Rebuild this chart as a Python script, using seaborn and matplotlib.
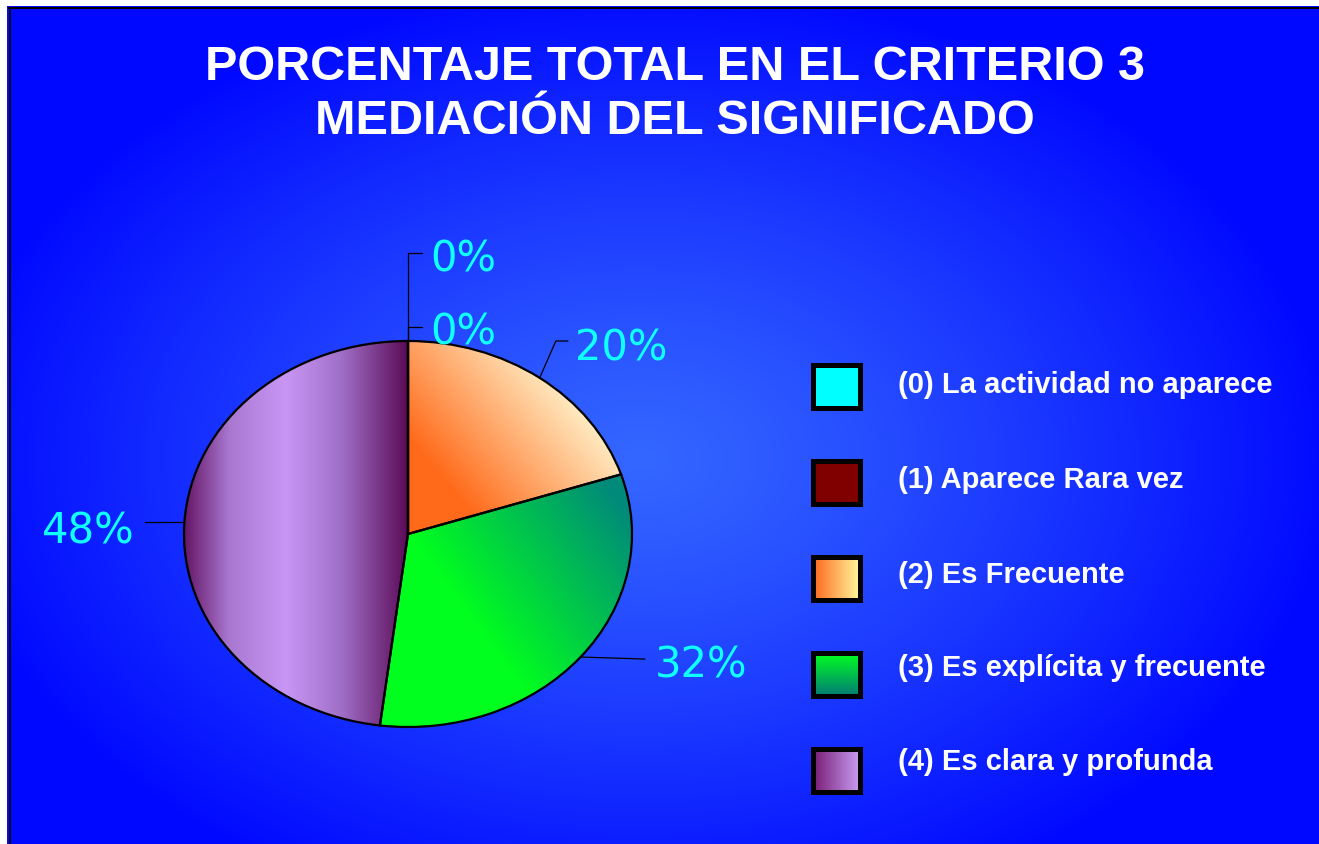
import numpy as np
import matplotlib
matplotlib.use("Agg")
import matplotlib.pyplot as plt
import seaborn as sns

categories = [
    "(0) La actividad no aparece",
    "(1) Aparece Rara vez",
    "(2) Es Frecuente",
    "(3) Es explícita y frecuente",
    "(4) Es clara y profunda",
]
percentages = [0, 0, 20, 32, 48]
title_lines = ["PORCENTAJE TOTAL EN EL CRITERIO 3", "MEDIACIÓN DEL SIGNIFICADO"]

sns.set_theme(style="white")
plt.rcParams["font.family"] = ["Liberation Sans", "DejaVu Sans"]

W, H = 1319, 845
fig = plt.figure(figsize=(W / 100, H / 100), dpi=100)

# background: radial blue gradient with a white margin and black frame lines
yy, xx = np.mgrid[0:H, 0:W]
r = np.sqrt(((xx - 640) / 700.0) ** 2 + ((yy - 460) / 480.0) ** 2)
t = np.clip(r, 0, 1) ** 1.2
inner = np.array([52, 102, 255]) / 255.0
outer = np.array([0, 8, 255]) / 255.0
bg_img = inner[None, None, :] * (1 - t[..., None]) + outer[None, None, :] * t[..., None]
bg_img[:7, :] = 1.0
bg_img[:, :7] = 1.0
bg_img[8:10, 8:] = 0.0
bg_img[8:, 9:11] = 0.05
bg = fig.add_axes([0, 0, 1, 1], zorder=-10)
bg.imshow(bg_img, extent=(0, W, H, 0), aspect="auto", interpolation="bilinear")
bg.set_xlim(0, W)
bg.set_ylim(H, 0)
bg.axis("off")

# title
for i, line in enumerate(title_lines):
    fig.text(675 / W, 1 - (68 + 53 * i) / H, line, ha="center", va="center",
             color="white", fontsize=35, fontweight="bold")


def hex_rgb(h):
    h = h.lstrip("#")
    return np.array([int(h[k:k + 2], 16) for k in (0, 2, 4)]) / 255.0


def lerp_img(tt, c0, c1):
    a, b = hex_rgb(c0), hex_rgb(c1)
    tt = np.clip(tt, 0, 1)[..., None]
    return a * (1 - tt) + b * tt


# pie (elliptical, gradient filled wedges)
ax = fig.add_axes([184 / W, (H - 728) / H, 448 / W, 386 / H])
ax.patch.set_visible(False)
wedges, _ = ax.pie(percentages, startangle=90, counterclock=False, radius=1,
                   wedgeprops=dict(facecolor="none", edgecolor="black", linewidth=1.6, zorder=3))

gy, gx = np.mgrid[-1:1:300j, -1:1:300j]
purple_img = np.stack([
    np.interp(gx, [-1, -0.8, -0.55, -0.3, 0],
              [c[k] for c in map(hex_rgb, ["#651666", "#A878D0", "#C897F5", "#A070C8", "#5A0A55"])])
    for k in range(3)], axis=-1)
fills = [
    None,
    None,
    lerp_img(gx * 1.1 + (gy - 0.5) * 0.8, "#FF6A1A", "#FFF0C8"),
    lerp_img(gx * 0.95 + gy * 0.6, "#00FF1E", "#008A7A"),
    purple_img,
]
for w, fill, val in zip(wedges, fills, percentages):
    if val == 0 or fill is None:
        continue
    im = ax.imshow(fill, extent=(-1, 1, -1, 1), origin="lower", aspect="auto",
                   zorder=1, interpolation="bilinear")
    im.set_clip_path(w)

ax.set_aspect("auto")
ax.set_xlim(-1, 1)
ax.set_ylim(-1, 1)
ax.axis("off")

# data labels with leader lines (offsets in axes data units)
label_color = "#10FFFF"
label_layout = [
    # (elbow points after anchor, text x, text y, ha)
    ([(0.0, 1.456), (0.0625, 1.456)], 0.098, 1.43, "left"),
    ([(0.0, 1.073), (0.0625, 1.073)], 0.098, 1.05, "left"),
    ([(0.66, 1.0), (0.714, 1.0)], 0.745, 0.965, "left"),
    ([(1.058, -0.648)], 1.10, -0.676, "left"),
    ([(-1.174, None)], -1.219, 0.018, "right"),
]
for w, val, (pts, tx, ty, ha) in zip(wedges, percentages, label_layout):
    mid = np.deg2rad((w.theta1 + w.theta2) / 2)
    ax0 = (np.cos(mid), np.sin(mid))
    xs = [ax0[0]] + [p[0] for p in pts]
    ys = [ax0[1]] + [ax0[1] if p[1] is None else p[1] for p in pts]
    ax.plot(xs, ys, color="black", linewidth=0.9, clip_on=False, zorder=4)
    ax.text(tx, ty, f"{val}%", color=label_color, fontsize=30, ha=ha, va="center",
            family="DejaVu Sans", clip_on=False, zorder=5)

# legend with gradient swatches
swatches = [
    lerp_img(np.zeros((20, 20)), "#00FFFF", "#00FFFF"),
    lerp_img(np.zeros((20, 20)), "#800000", "#800000"),
    lerp_img(np.tile(np.linspace(0, 1, 20), (20, 1)), "#FF6A20", "#FFF59A"),
    lerp_img(np.tile(np.linspace(0, 1, 20)[:, None], (1, 20)), "#00FF20", "#007E73"),
    lerp_img(np.tile(np.linspace(0, 1, 20), (20, 1)), "#7A1E78", "#C79BF0"),
]
box_y = [387, 483, 579, 675, 771]
text_y = [385, 480, 575, 668, 762]
for name, sw, cy, ty in zip(categories, swatches, box_y, text_y):
    sax = fig.add_axes([812.5 / W, 1 - (cy + 21.5) / H, 47 / W, 43 / H])
    sax.imshow(sw, aspect="auto", interpolation="bilinear")
    sax.set_xticks([])
    sax.set_yticks([])
    for s in sax.spines.values():
        s.set_visible(True)
        s.set_color("black")
        s.set_linewidth(3.6)
    fig.text(898 / W, 1 - ty / H, name, ha="left", va="center",
             color="white", fontsize=21, fontweight="bold")

fig.savefig("out.png", dpi=100)
